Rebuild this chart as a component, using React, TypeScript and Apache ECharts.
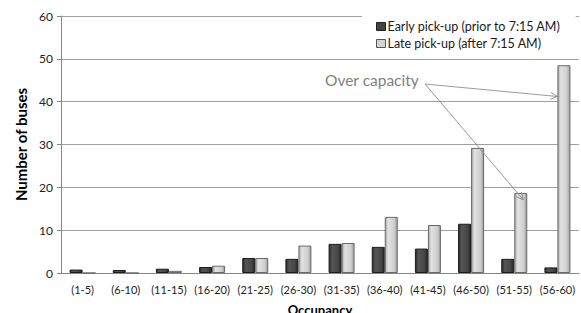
import React, { useEffect, useRef } from "react";
import * as echarts from "echarts";

const categories = ["(1-5)", "(6-10)", "(11-15)", "(16-20)", "(21-25)", "(26-30)", "(31-35)", "(36-40)", "(41-45)", "(46-50)", "(51-55)", "(56-60)"];
const earlyPickup = [0.8, 0.7, 1.0, 1.4, 3.5, 3.3, 6.8, 6.1, 5.7, 11.5, 3.3, 1.3];
const latePickup = [0, 0, 0.5, 1.7, 3.5, 6.4, 7.0, 13.1, 11.2, 29.2, 18.7, 48.5];
const yTicks = { min: 0, max: 60, interval: 10 };
const seriesNames = ["Early pick-up (prior to 7:15 AM)", "Late pick-up (after 7:15 AM)"];
const annotationText = "Over capacity";
// arrow targets: [category index, value]
const arrowTargets: [number, number][] = [[11, 41.2], [10, 17.1]];

export default function App() {
  const ref = useRef<HTMLDivElement>(null);
  useEffect(() => {
    if (!ref.current) return;
    const chart = echarts.init(ref.current, null, { renderer: "svg" });
    const font = "Lato, 'Open Sans', sans-serif";
    const earlyColor = new echarts.graphic.LinearGradient(0, 0, 1, 0, [
      { offset: 0, color: "#2a2a2a" },
      { offset: 0.25, color: "#555555" },
      { offset: 0.75, color: "#464646" },
      { offset: 1, color: "#252525" },
    ]);
    const lateColor = new echarts.graphic.LinearGradient(0, 0, 1, 0, [
      { offset: 0, color: "#a9a9a9" },
      { offset: 0.25, color: "#e2e2e2" },
      { offset: 0.75, color: "#cecece" },
      { offset: 1, color: "#9c9c9c" },
    ]);
    chart.setOption({
      animation: false,
      grid: { left: 61, right: 2, top: 16, bottom: 40, containLabel: false, outerBoundsMode: "none" },
      legend: {
        orient: "vertical",
        left: 362,
        top: 6,
        padding: [14, 15, 6, 14],
        itemGap: 4,
        itemWidth: 9,
        itemHeight: 8,
        backgroundColor: "#ffffff",
        icon: "rect",
        textStyle: { fontFamily: font, fontSize: 12.5, color: "#1a1a1a", padding: [0, 0, 0, -3] },
        data: [
          { name: seriesNames[0], itemStyle: { color: "#444", borderColor: "#222", borderWidth: 1 } },
          { name: seriesNames[1], itemStyle: { color: "#d4d4d4", borderColor: "#555", borderWidth: 1 } },
        ],
      },
      xAxis: {
        type: "category",
        data: categories,
        name: "Occupancy",
        nameLocation: "middle",
        nameGap: 30,
        nameTextStyle: { fontFamily: font, fontSize: 13, fontWeight: "bold", color: "#000" },
        axisLine: { lineStyle: { color: "#868686", width: 1 } },
        axisTick: { show: false },
        axisLabel: { fontFamily: font, fontSize: 11, color: "#222", margin: 11, interval: 0 },
      },
      yAxis: {
        type: "value",
        min: yTicks.min,
        max: yTicks.max,
        interval: yTicks.interval,
        name: "Number of buses",
        nameLocation: "middle",
        nameGap: 31,
        nameTextStyle: { fontFamily: font, fontSize: 15, fontWeight: "bold", color: "#000" },
        axisLine: { show: true, lineStyle: { color: "#868686", width: 1 } },
        axisTick: { show: true, length: 4, lineStyle: { color: "#868686" } },
        axisLabel: { fontFamily: font, fontSize: 12, color: "#222", margin: 8 },
        splitLine: { lineStyle: { color: "#a0a0a0", width: 1 } },
      },
      series: [
        {
          name: seriesNames[0],
          type: "bar",
          data: earlyPickup,
          barWidth: 13,
          barGap: "0%",
          itemStyle: { color: earlyColor, borderColor: "#1c1c1c", borderWidth: 1 },
        },
        {
          name: seriesNames[1],
          type: "bar",
          data: latePickup,
          barWidth: 13,
          barGap: "0%",
          itemStyle: { color: lateColor, borderColor: "#6a6a6a", borderWidth: 1 },
        },
      ],
    });

    const start = [425, 84];
    const offsets = [0, 9];
    const elements: any[] = [
      {
        type: "text",
        left: 325,
        top: 72,
        style: { text: annotationText, fontFamily: font, fontSize: 15.5, fill: "#7f7f7f" },
      },
    ];
    arrowTargets.forEach((t, i) => {
      const p = chart.convertToPixel({ xAxisIndex: 0, yAxisIndex: 0 }, [t[0], t[1]]) as number[];
      const end = [p[0] + offsets[i], p[1]];
      const dx = end[0] - start[0];
      const dy = end[1] - start[1];
      const len = Math.sqrt(dx * dx + dy * dy);
      const ux = dx / len, uy = dy / len;
      const ah = 7, aw = 3.5;
      const bx = end[0] - ux * ah, by = end[1] - uy * ah;
      elements.push({
        type: "line",
        shape: { x1: start[0], y1: start[1], x2: end[0], y2: end[1] },
        style: { stroke: "#808080", lineWidth: 0.8 },
        z: 10,
      });
      elements.push({
        type: "polyline",
        shape: { points: [[bx - uy * aw, by + ux * aw], end, [bx + uy * aw, by - ux * aw]] },
        style: { stroke: "#808080", lineWidth: 0.8, fill: "none" },
        z: 10,
      });
    });
    chart.setOption({ graphic: elements });
    return () => chart.dispose();
  }, []);
  return <div ref={ref} style={{ position: "absolute", left: 0, top: 0, width: 581, height: 313 }} />;
}
